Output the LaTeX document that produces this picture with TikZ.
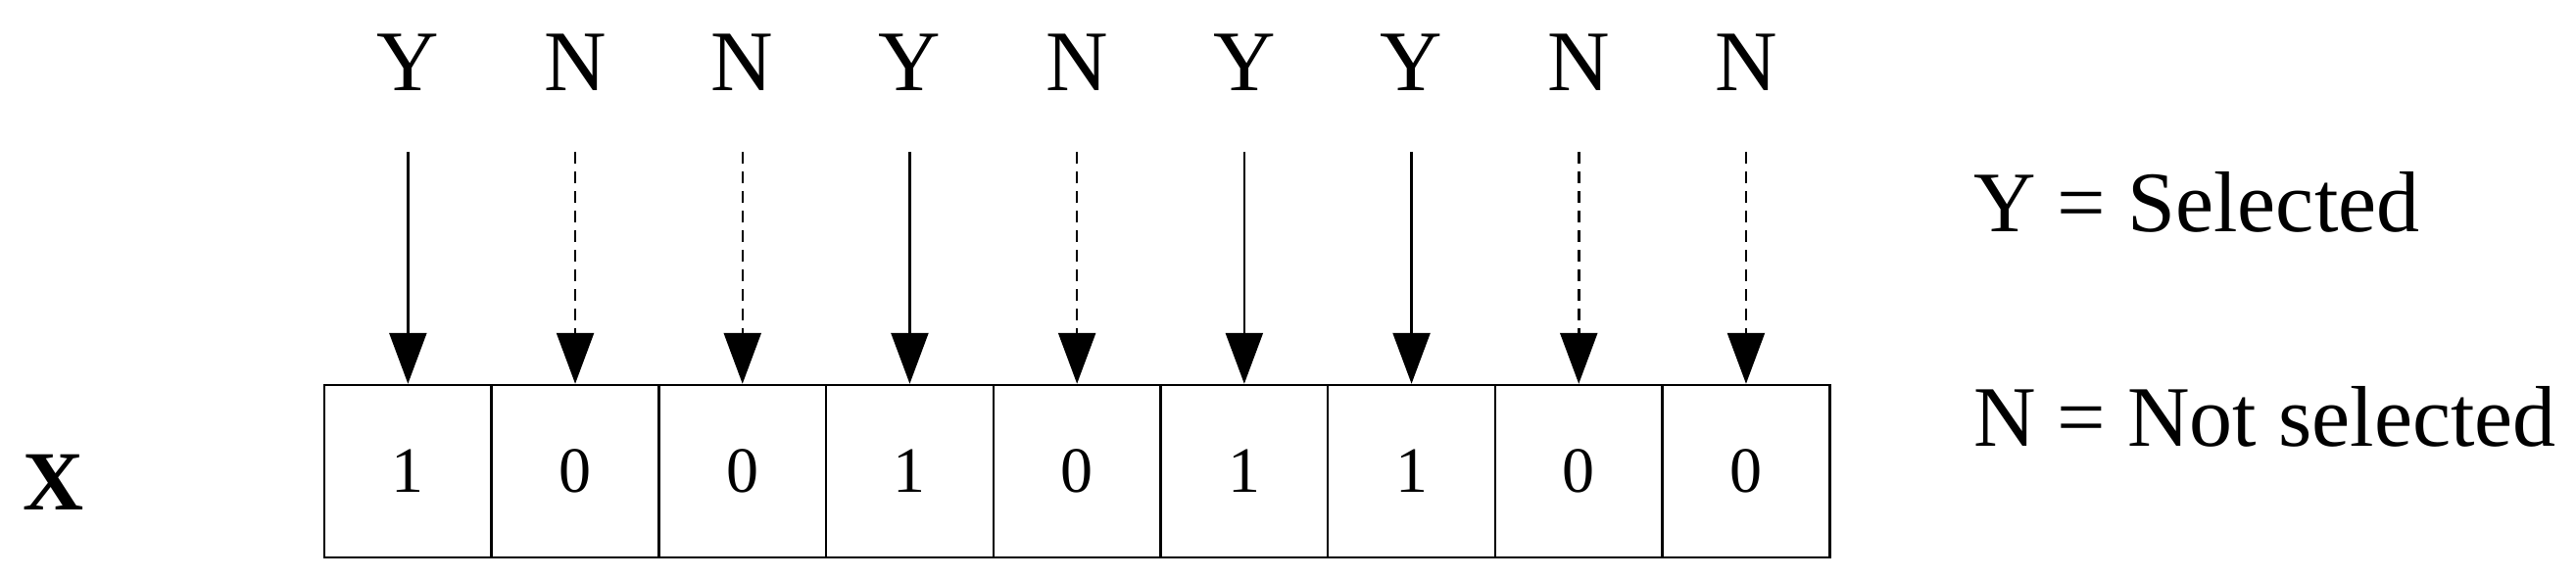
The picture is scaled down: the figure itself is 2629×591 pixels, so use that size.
\documentclass[tikz,border=0pt]{standalone}
\usepackage{fontspec}
\setmainfont{Liberation Serif}
\usetikzlibrary{arrows.meta}
\begin{document}
\begin{tikzpicture}[x=1pt,y=-1pt,
  lab/.style={font=\fontsize{88}{90}\selectfont, inner sep=0pt, anchor=base},
  cell/.style={draw, line width=2.5pt, minimum width=170.7pt, minimum height=176pt, inner sep=0pt, font=\fontsize{66}{70}\selectfont},
  arr/.style={line width=2.5pt, -{Triangle[length=52pt,width=38pt]}},
  darr/.style={arr, dash pattern=on 12pt off 8pt}]
\useasboundingbox (0,0) rectangle (2629,591);
\foreach \v [count=\i] in {1,0,0,1,0,1,1,0,0} {
  \node[cell] (c\i) at ({331+170.7*(\i-0.5)},481) {\v};
}
\foreach \t/\s [count=\i] in {Y/arr,N/darr,N/darr,Y/arr,N/darr,Y/arr,Y/arr,N/darr,N/darr} {
  \node[lab] (l\i) at ({331+170.7*(\i-0.5)},93) {\t};
  \coordinate (s\i) at ({331+170.7*(\i-0.5)},155);
  \draw[\s] (s\i) -- (c\i.north);
}
\node[inner sep=0pt, anchor=base, font=\fontsize{86}{90}\selectfont\bfseries] (x) at (55,520) {X};
\node[lab, anchor=base west] (ys) at (2014,236) {Y = Selected};
\node[lab, anchor=base west] (ns) at (2014,455) {N = Not selected};
\end{tikzpicture}
\end{document}
